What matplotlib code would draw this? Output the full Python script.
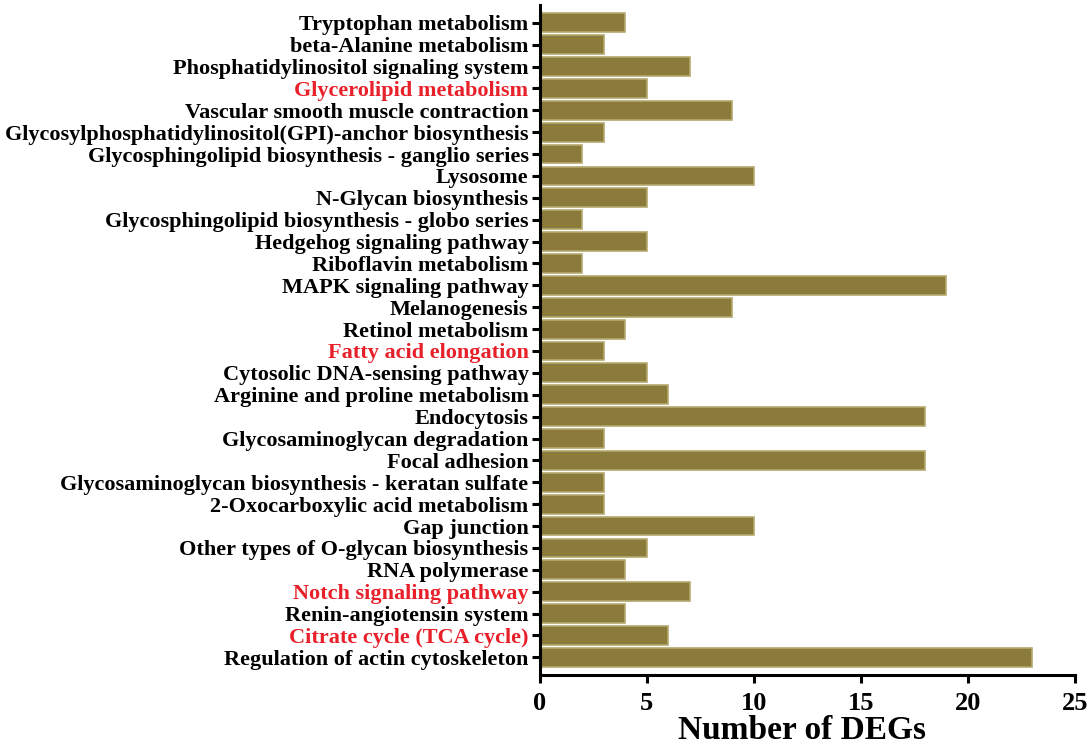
import matplotlib
matplotlib.use("Agg")
import matplotlib.pyplot as plt
import numpy as np

# pathways, top to bottom
pathways = [
    "Tryptophan metabolism",
    "beta-Alanine metabolism",
    "Phosphatidylinositol signaling system",
    "Glycerolipid metabolism",
    "Vascular smooth muscle contraction",
    "Glycosylphosphatidylinositol(GPI)-anchor biosynthesis",
    "Glycosphingolipid biosynthesis - ganglio series",
    "Lysosome",
    "N-Glycan biosynthesis",
    "Glycosphingolipid biosynthesis - globo series",
    "Hedgehog signaling pathway",
    "Riboflavin metabolism",
    "MAPK signaling pathway",
    "Melanogenesis",
    "Retinol metabolism",
    "Fatty acid elongation",
    "Cytosolic DNA-sensing pathway",
    "Arginine and proline metabolism",
    "Endocytosis",
    "Glycosaminoglycan degradation",
    "Focal adhesion",
    "Glycosaminoglycan biosynthesis - keratan sulfate",
    "2-Oxocarboxylic acid metabolism",
    "Gap junction",
    "Other types of O-glycan biosynthesis",
    "RNA polymerase",
    "Notch signaling pathway",
    "Renin-angiotensin system",
    "Citrate cycle (TCA cycle)",
    "Regulation of actin cytoskeleton",
]
n_degs = [4, 3, 7, 5, 9, 3, 2, 10, 5, 2, 5, 2, 19, 9, 4, 3, 5, 6, 18, 3,
          18, 3, 3, 10, 5, 4, 7, 4, 6, 23]
highlighted = ["Glycerolipid metabolism", "Fatty acid elongation",
               "Notch signaling pathway", "Citrate cycle (TCA cycle)"]

bar_color = "#8A7B3A"
red = "#E8202A"

plt.rcParams["font.family"] = ["Liberation Serif", "DejaVu Serif"]
plt.rcParams["font.weight"] = "bold"

fig = plt.figure(figsize=(10.88, 7.49), dpi=100)
ax = fig.add_axes([0.496, 0.099, 0.492, 0.894])

y = np.arange(len(pathways))
ax.barh(y, n_degs, height=0.86, color=bar_color, edgecolor="#b5a96e", linewidth=1.2)

ax.set_ylim(len(pathways) - 0.2, -0.8)
ax.set_xlim(0, 25)
ax.set_xticks([0, 5, 10, 15, 20, 25])
ax.set_yticks(y)
ax.set_yticklabels(pathways, fontsize=16, fontweight="bold")
for lab in ax.get_yticklabels():
    if lab.get_text() in highlighted:
        lab.set_color(red)
for lab in ax.get_xticklabels():
    lab.set_fontsize(19)
    lab.set_fontweight("bold")

ax.set_xlabel("Number of DEGs", fontsize=24, fontweight="bold", va="center")
ax.xaxis.set_label_coords(0.49, -0.083)

for s in ["top", "right"]:
    ax.spines[s].set_visible(False)
for s in ["left", "bottom"]:
    ax.spines[s].set_linewidth(2.2)
ax.tick_params(axis="both", width=2.2, length=6, direction="out")
ax.tick_params(axis="y", pad=2)
ax.tick_params(axis="x", pad=6)

fig.savefig("out.png", dpi=100)
